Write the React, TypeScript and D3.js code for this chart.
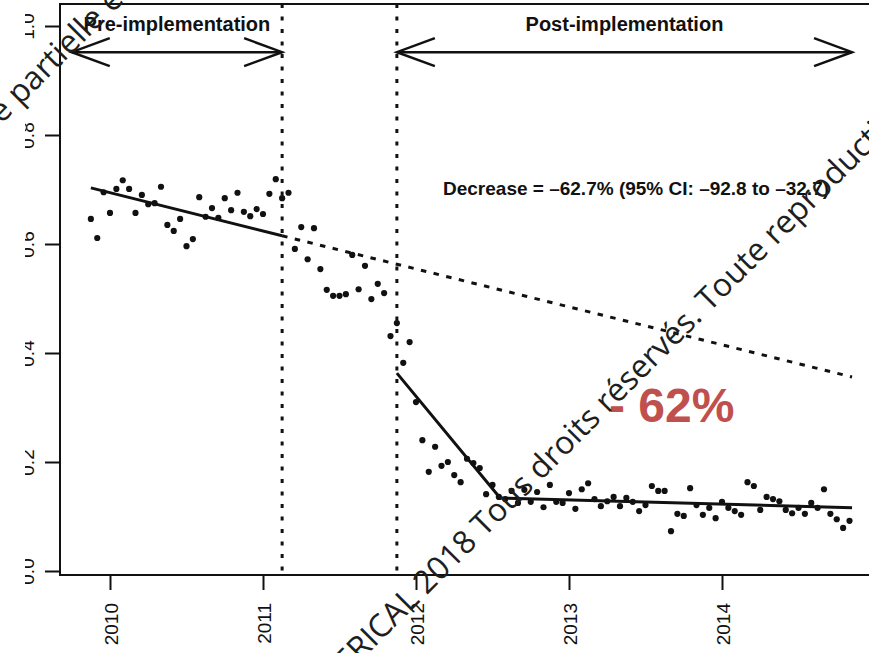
import React, { useRef, useEffect } from 'react'
import * as d3 from 'd3'

// biweekly rate series, first point mid-November 2009
const seriesStart = 2009.875
const pointsPerYear = 24
const rates = [
	0.646, 0.611, 0.695, 0.657, 0.701, 0.717, 0.701, 0.657, 0.69, 0.673,
	0.675, 0.705, 0.635, 0.624, 0.646, 0.596, 0.609, 0.686, 0.65, 0.666,
	0.648, 0.684, 0.662, 0.694, 0.659, 0.651, 0.664, 0.655, 0.692, 0.719,
	0.684, 0.694, 0.591, 0.631, 0.572, 0.629, 0.554, 0.516, 0.505, 0.505,
	0.508, 0.58, 0.517, 0.56, 0.499, 0.527, 0.51, 0.431, 0.455, 0.382,
	0.42, 0.31, 0.24, 0.182, 0.228, 0.193, 0.2, 0.176, 0.163, 0.206,
	0.198, 0.189, 0.141, 0.158, 0.136, 0.132, 0.147, 0.125, 0.149, 0.127,
	0.145, 0.117, 0.158, 0.127, 0.125, 0.143, 0.114, 0.15, 0.161, 0.132,
	0.119, 0.128, 0.136, 0.119, 0.134, 0.127, 0.11, 0.121, 0.156, 0.147,
	0.147, 0.073, 0.105, 0.101, 0.152, 0.121, 0.103, 0.116, 0.097, 0.127,
	0.116, 0.11, 0.103, 0.163, 0.156, 0.112, 0.136, 0.132, 0.128, 0.112,
	0.106, 0.116, 0.105, 0.125, 0.116, 0.15, 0.105, 0.095, 0.079, 0.092,
]

// fitted segments (date, value)
const preTrendDates = [2009.875, 2011.125]
const preTrendValues = [0.703, 0.615]
const counterfactualDates = [2011.125, 2014.85]
const counterfactualValues = [0.615, 0.356]
const postTrendDates = [2011.875, 2012.55, 2014.85]
const postTrendValues = [0.363, 0.134, 0.116]

const interventions = [2011.125, 2011.875]
const periodLabels = ['Pre-implementation', 'Post-implementation']
const periodRanges = [
	[2009.75, 2011.125],
	[2011.875, 2014.85],
]
const arrowLevel = 0.952

const yearTicks = [2010, 2011, 2012, 2013, 2014]
const rateTicks = [0, 0.2, 0.4, 0.6, 0.8, 1.0]
const rateTickLabels = ['0.0', '0.2', '0.4', '0.6', '0.8', '1.0']

const decreaseText = 'Decrease = \u201362.7% (95% CI: \u201392.8 to \u201332.7)'
const badge = '- 62%'
const watermark = '\u00A9ERICAL 2018 Tous droits r\u00E9serv\u00E9s. Toute reproduction m\u00EAme partielle est interdite'

const W = 869
const H = 653

const App = () => {
	const svgRef = useRef(null)

	useEffect(() => {
		const svg = d3.select(svgRef.current)
		svg.selectAll('*').remove()

		const frame = { left: 60, top: 4, bottom: 575, right: 900 }
		const ink = '#111'

		const x = d3.scaleLinear().domain([2010, 2014]).range([110, 722])
		const y = d3.scaleLinear().domain([0, 1]).range([571, 26])

		svg.append('rect').attr('width', W).attr('height', H).attr('fill', '#fff')

		// box
		svg
			.append('path')
			.attr('d', `M${frame.right},${frame.top}H${frame.left}V${frame.bottom}H${frame.right}`)
			.attr('fill', 'none')
			.attr('stroke', ink)
			.attr('stroke-width', 2)

		// y axis
		const yAxis = d3
			.axisLeft(y)
			.tickValues(rateTicks)
			.tickSize(15)
			.tickFormat((d, i) => rateTickLabels[i])
		const gy = svg.append('g').attr('transform', `translate(${frame.left},0)`).call(yAxis)
		gy.select('.domain').remove()
		gy.selectAll('line').attr('stroke', ink).attr('stroke-width', 2)
		gy.selectAll('text')
			.attr('x', 0)
			.attr('y', 0)
			.attr('dy', null)
			.attr('transform', 'translate(-26,0) rotate(-90)')
			.attr('text-anchor', 'middle')
			.attr('font-family', 'Liberation Sans, Arial, sans-serif')
			.attr('font-size', 19)
			.attr('fill', ink)

		// x axis
		const xAxis = d3
			.axisBottom(x)
			.tickValues(yearTicks)
			.tickSize(15)
			.tickFormat(d3.format('d'))
		const gx = svg.append('g').attr('transform', `translate(0,${frame.bottom})`).call(xAxis)
		gx.select('.domain').remove()
		gx.selectAll('line').attr('stroke', ink).attr('stroke-width', 2)
		gx.selectAll('text')
			.attr('y', 0)
			.attr('dy', null)
			.attr('transform', 'translate(7,28) rotate(-90)')
			.attr('text-anchor', 'end')
			.attr('font-family', 'Liberation Sans, Arial, sans-serif')
			.attr('font-size', 19)
			.attr('fill', ink)

		// cut the rotated y labels like the cropped original
		svg.append('rect').attr('width', 25).attr('height', H).attr('fill', '#fff')

		// intervention markers
		svg
			.selectAll('.intervention')
			.data(interventions)
			.enter()
			.append('line')
			.attr('x1', d => x(d))
			.attr('x2', d => x(d))
			.attr('y1', frame.top)
			.attr('y2', frame.bottom)
			.attr('stroke', ink)
			.attr('stroke-width', 3)
			.attr('stroke-dasharray', '4 8.5')

		// period arrows
		const ay = y(arrowLevel)
		periodRanges.forEach(([a, b], i) => {
			const x1 = x(a)
			const x2 = x(b)
			const g = svg.append('g').attr('stroke', ink).attr('stroke-width', 2.5).attr('fill', 'none')
			g.append('line').attr('x1', x1).attr('x2', x2).attr('y1', ay).attr('y2', ay)
			g.append('path').attr('d', `M${x1 + 38},${ay - 14}L${x1},${ay}L${x1 + 38},${ay + 14}`)
			g.append('path').attr('d', `M${x2 - 38},${ay - 14}L${x2},${ay}L${x2 - 38},${ay + 14}`)
			svg
				.append('text')
				.attr('x', (x1 + x2) / 2)
				.attr('y', 31)
				.attr('text-anchor', 'middle')
				.attr('font-family', 'Liberation Sans, Arial, sans-serif')
				.attr('font-weight', 'bold')
				.attr('font-size', 20)
				.attr('fill', ink)
				.text(periodLabels[i])
		})

		// data points
		const points = rates.map((v, i) => ({ date: seriesStart + i / pointsPerYear, v }))
		svg
			.selectAll('.dot')
			.data(points)
			.enter()
			.append('circle')
			.attr('class', 'dot')
			.attr('cx', d => x(d.date))
			.attr('cy', d => y(d.v))
			.attr('r', 3.1)
			.attr('fill', ink)

		// fitted lines
		const line = d3
			.line()
			.x(d => x(d[0]))
			.y(d => y(d[1]))
		const seg = (dates, values) => dates.map((d, i) => [d, values[i]])

		svg
			.append('path')
			.attr('d', line(seg(preTrendDates, preTrendValues)))
			.attr('fill', 'none')
			.attr('stroke', ink)
			.attr('stroke-width', 3)
		svg
			.append('path')
			.attr('d', line(seg(counterfactualDates, counterfactualValues)))
			.attr('fill', 'none')
			.attr('stroke', ink)
			.attr('stroke-width', 3)
			.attr('stroke-dasharray', '5.5 7.5')
		svg
			.append('path')
			.attr('d', line(seg(postTrendDates, postTrendValues)))
			.attr('fill', 'none')
			.attr('stroke', ink)
			.attr('stroke-width', 3)
			.attr('stroke-linejoin', 'round')

		svg
			.append('text')
			.attr('x', 443)
			.attr('y', 195)
			.attr('font-family', 'Liberation Sans, Arial, sans-serif')
			.attr('font-weight', 'bold')
			.attr('font-size', 19)
			.attr('fill', ink)
			.text(decreaseText)

		svg
			.append('text')
			.attr('x', 609)
			.attr('y', 422)
			.attr('font-family', 'Liberation Sans, Arial, sans-serif')
			.attr('font-weight', 'bold')
			.attr('font-size', 48)
			.attr('fill', '#c0504d')
			.text(badge)

		// diagonal watermark lines, anchored on a given word
		const stamp = (anchorWord, px, py) => {
			const t = svg
				.append('text')
				.attr('font-family', 'Open Sans, sans-serif')
				.attr('font-size', 32)
				.attr('fill', '#1e1e1e')
				.attr('transform', `translate(${px},${py}) rotate(-45)`)
				.text(watermark)
			const node = t.node()
			const k = watermark.indexOf(anchorWord)
			const off = k > 0 ? node.getSubStringLength(0, k) : 0
			t.attr('x', -off)
		}
		stamp('r\u00E9serv\u00E9s', 608, 414)
		stamp('partielle', 20, 106)
	}, [])

	return (
		<svg
			ref={svgRef}
			width={W}
			height={H}
			style={{ position: 'absolute', left: 0, top: 0, display: 'block' }}
		></svg>
	)
}

export default App
